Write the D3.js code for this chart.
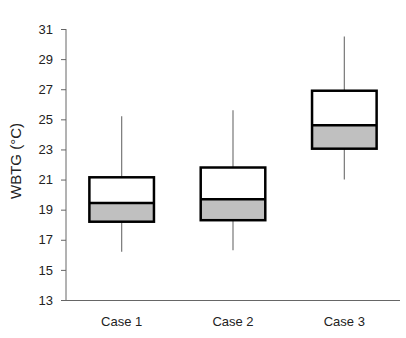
<!DOCTYPE html>
<html>
<head>
<meta charset="utf-8">
<script src="https://cdn.jsdelivr.net/npm/d3@7"></script>
<style>
  body { margin: 0; background: #fff; }
  text { font-family: "Liberation Sans", Arial, sans-serif; }
</style>
</head>
<body>
<div id="viz"></div>
<script>
var cases = ['Case 1', 'Case 2', 'Case 3'];
var whiskLow = [16.2, 16.3, 21.0];
var q1 = [18.2, 18.3, 23.05];
var median = [19.45, 19.7, 24.6];
var q3 = [21.15, 21.8, 26.9];
var whiskHigh = [25.2, 25.6, 30.5];
var yTicks = [13, 15, 17, 19, 21, 23, 25, 27, 29, 31];

var w = 406, h = 338;

var svg = d3.select('#viz')
            .append('svg')
            .attr('width', w)
            .attr('height', h)

var x = d3.scaleBand()
  .domain(cases)
  .range([66, 400])

var y = d3.scaleLinear()
  .domain([13, 31])
  .range([300, 29])

var boxW = x.bandwidth() * 0.58;

// y axis
var yAxis = svg.append('g')
  .attr('transform', 'translate(66,0)')
  .call(d3.axisLeft(y).tickValues(yTicks).tickSize(5).tickPadding(8))
yAxis.select('.domain').attr('stroke', '#666').attr('d', 'M0,' + y(31) + 'V' + y(13))
yAxis.selectAll('.tick line').attr('stroke', '#666')
yAxis.selectAll('.tick text').attr('font-size', 13).attr('fill', '#222')

// x axis line
svg.append('line')
  .attr('x1', 61).attr('x2', 400)
  .attr('y1', y(13) + 0.5).attr('y2', y(13) + 0.5)
  .attr('stroke', '#666')

svg.selectAll('.xlab')
  .data(cases)
  .enter()
  .append('text')
  .attr('class', 'xlab')
  .attr('x', d => x(d) + x.bandwidth() / 2)
  .attr('y', 326)
  .attr('text-anchor', 'middle')
  .attr('font-size', 13)
  .attr('fill', '#222')
  .text(d => d)

svg.append('text')
  .attr('transform', 'translate(21,161) rotate(-90)')
  .attr('text-anchor', 'middle')
  .attr('font-size', 15)
  .attr('fill', '#222')
  .text('WBTG (°C)')

// boxes
var g = svg.selectAll('.box')
  .data(cases)
  .enter()
  .append('g')
  .attr('class', 'box')

g.append('line')
  .attr('x1', d => x(d) + x.bandwidth() / 2)
  .attr('x2', d => x(d) + x.bandwidth() / 2)
  .attr('y1', (d, i) => y(whiskLow[i]))
  .attr('y2', (d, i) => y(whiskHigh[i]))
  .attr('stroke', '#777')
  .attr('stroke-width', 1.2)

g.append('rect')
  .attr('x', d => x(d) + (x.bandwidth() - boxW) / 2)
  .attr('width', boxW)
  .attr('y', (d, i) => y(q3[i]))
  .attr('height', (d, i) => y(median[i]) - y(q3[i]))
  .attr('fill', '#fff')

g.append('rect')
  .attr('x', d => x(d) + (x.bandwidth() - boxW) / 2)
  .attr('width', boxW)
  .attr('y', (d, i) => y(median[i]))
  .attr('height', (d, i) => y(q1[i]) - y(median[i]))
  .attr('fill', '#c0c0c0')

g.append('rect')
  .attr('x', d => x(d) + (x.bandwidth() - boxW) / 2)
  .attr('width', boxW)
  .attr('y', (d, i) => y(q3[i]))
  .attr('height', (d, i) => y(q1[i]) - y(q3[i]))
  .attr('fill', 'none')
  .attr('stroke', '#000')
  .attr('stroke-width', 2.5)

g.append('line')
  .attr('x1', d => x(d) + (x.bandwidth() - boxW) / 2)
  .attr('x2', d => x(d) + (x.bandwidth() + boxW) / 2)
  .attr('y1', (d, i) => y(median[i]))
  .attr('y2', (d, i) => y(median[i]))
  .attr('stroke', '#000')
  .attr('stroke-width', 2.5)
</script>
</body>
</html>
